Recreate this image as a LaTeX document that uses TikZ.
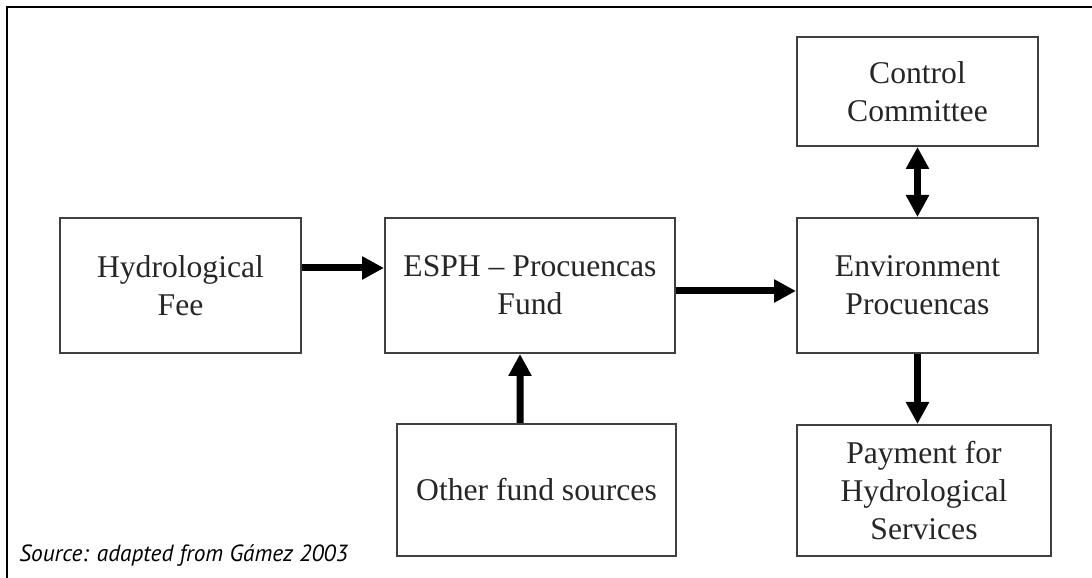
\documentclass[tikz,border=0pt]{standalone}
\usepackage{fontspec}
\setmainfont{Liberation Serif}
\newfontfamily\srcfont{PT Sans}
\usepackage{tikz}
\usetikzlibrary{positioning}
\usetikzlibrary{calc}
\usetikzlibrary{arrows.meta}

\begin{document}
\begin{tikzpicture}[box/.style={draw=black!75, line width=0.04cm, align=center, inner sep=2pt, text=black!85, font=\fontsize{18}{21.6}\selectfont},flow/.style={line width=0.14cm, -{Triangle[length=0.44cm,width=0.44cm]}}]
\useasboundingbox (0,0) rectangle (21.84cm,11.56cm);
\draw[line width=0.055cm] (22cm,11.42cm) -- (0.14cm,11.42cm) -- (0.14cm,-0.1cm);
\node (hf) at (3.61cm,5.85cm) [box,minimum width=4.82cm,minimum height=2.7cm] {Hydrological\\Fee};
\node (fund) at (10.6cm,5.85cm) [box,minimum width=5.8cm,minimum height=2.7cm] {ESPH -- Procuencas\\Fund};
\node (env) at (18.35cm,5.85cm) [box,minimum width=4.82cm,minimum height=2.7cm] {Environment\\Procuencas};
\node (cc) at (18.35cm,9.73cm) [box,minimum width=4.82cm,minimum height=2.18cm] {Control\\Committee};
\node (pay) at (18.48cm,1.75cm) [box,minimum width=5.08cm,minimum height=2.62cm] {Payment for\\Hydrological\\Services};
\node (ofs) at (10.73cm,1.76cm) [box,minimum width=5.58cm,minimum height=2.64cm] {Other fund sources};
\node (src) at (0.38cm,0.32cm) [anchor=base west,inner sep=0pt] {\srcfont\itshape\fontsize{13.3}{16}\selectfont Source: adapted from Gámez 2003};
\draw[flow] ([yshift=0.35cm]hf.east) -- ([yshift=0.35cm]fund.west);
\draw[flow] ([yshift=-0.11cm]fund.east) -- ([yshift=-0.11cm]env.west);
\draw[flow] ([xshift=-0.33cm]ofs.north) -- ([xshift=-0.2cm]fund.south);
\draw[flow,{Triangle[length=0.44cm,width=0.44cm]}-{Triangle[length=0.44cm,width=0.44cm]}] (env.north) -- (cc.south);
\draw[flow] (env.south) -- (env.south |- pay.north);
\end{tikzpicture}
\end{document}
